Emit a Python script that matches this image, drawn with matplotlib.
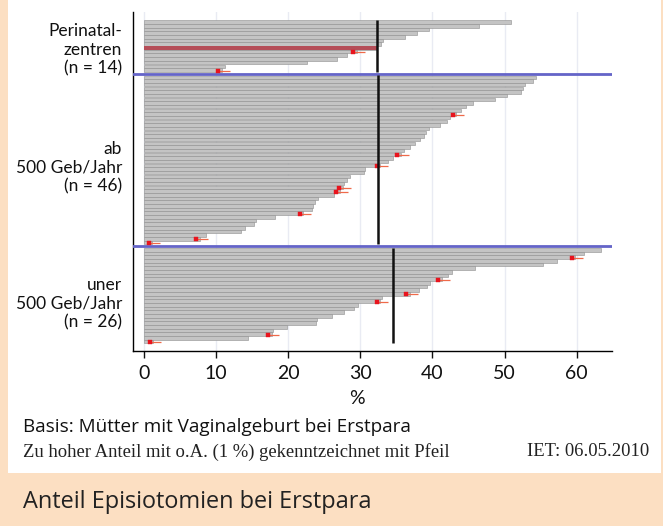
import matplotlib
matplotlib.use("Agg")
import matplotlib.pyplot as plt
from matplotlib.patches import Rectangle

# ---------------- data ----------------
group_labels = ["Perinatal-\nzentren\n(n = 14)", "ab\n500 Geb/Jahr\n(n = 46)", "uner\n500 Geb/Jahr\n(n = 26)"]

top_vals = [50.9, 46.5, 39.5, 37.8, 36.2, 33.1, 32.9, 32.3, 29.5, 28.1, 26.8, 22.6, 11.3, 10.8]
top_flags = [8, 13]
top_highlight = 7
top_mean = 32.3

mid_vals = [54.4, 54.0, 52.9, 52.5, 52.3, 50.3, 48.7, 45.7, 44.7, 43.9,
            43.3, 42.5, 42.0, 41.1, 39.5, 39.1, 38.8, 38.3, 37.6, 36.9,
            36.1, 35.6, 34.6, 33.8, 32.8, 30.7, 30.5, 28.6, 28.1, 27.8,
            27.6, 27.2, 26.3, 24.1, 23.7, 23.5, 23.3, 22.1, 18.2, 15.5,
            15.3, 14.0, 13.5, 8.6, 7.8, 1.2]
mid_flags = [10, 21, 24, 30, 31, 37, 44, 45]
mid_mean = 32.5

bot_vals = [63.4, 61.0, 59.8, 57.3, 55.4, 45.9, 42.7, 42.2, 41.3, 39.7,
            39.2, 38.1, 36.9, 33.0, 32.8, 29.7, 29.1, 27.7, 26.1, 24.0,
            23.8, 19.8, 17.9, 17.7, 14.4, 1.3]
bot_flags = [2, 8, 12, 14, 23, 25]
bot_mean = 34.6

x_ticks = [0, 10, 20, 30, 40, 50, 60]
x_label = "%"
note_basis = "Basis: Mütter mit Vaginalgeburt bei Erstpara"
note_arrow = "Zu hoher Anteil mit o.A. (1 %) gekenntzeichnet mit Pfeil"
note_date = "IET: 06.05.2010"
title = "Anteil Episiotomien bei Erstpara"

# ---------------- style ----------------
SANS = ["Lato", "DejaVu Sans"]
SANS2 = ["Open Sans", "DejaVu Sans"]
SERIF = ["Liberation Serif", "DejaVu Serif"]
PEACH = "#fcdfc2"
BAR_FACE = "#c4c4c4"
BAR_EDGE = "#8e8e8e"
HIGHLIGHT = "#b54e58"
SEP_BLUE = "#6464c8"
GRID = "#e9ebf3"

W, H = 663, 526
fig = plt.figure(figsize=(W / 100, H / 100), dpi=100)
fig.patch.set_facecolor("white")

# background frame
fig.add_artist(Rectangle((0, 0), 1, 53 / H, transform=fig.transFigure,
                         facecolor=PEACH, edgecolor="none", zorder=0))
fig.add_artist(Rectangle((0, 0), 8 / W, 1, transform=fig.transFigure,
                         facecolor=PEACH, edgecolor="none", zorder=0))
fig.add_artist(Rectangle((661 / W, 0), 2 / W, 1, transform=fig.transFigure,
                         facecolor=PEACH, edgecolor="none", zorder=0))

ax_l, ax_r, ax_t, ax_b = 133, 612, 12, 351
ax = fig.add_axes([ax_l / W, 1 - ax_b / H, (ax_r - ax_l) / W, (ax_b - ax_t) / H])
ax.set_facecolor("none")

groups = [(top_vals, top_flags, top_mean), (mid_vals, mid_flags, mid_mean), (bot_vals, bot_flags, bot_mean)]
row = 0
sep_rows = []
for gi, (vals, flags, mean) in enumerate(groups):
    rows = list(range(row, row + len(vals)))
    ax.barh(rows, vals, height=0.98, color=BAR_FACE, edgecolor=BAR_EDGE, linewidth=0.4, zorder=2)
    if gi == 0:
        ax.barh([rows[top_highlight]], [vals[top_highlight]], height=1.05, color=HIGHLIGHT,
                edgecolor="none", zorder=2.5)
    for fi in flags:
        v = vals[fi]
        ax.plot([v - 0.5, v + 1.1], [rows[fi] + 0.15, rows[fi] + 0.15], color="#ef6a4a", lw=0.9,
                zorder=4, solid_capstyle="butt")
        ax.plot([v - 0.5], [rows[fi] + 0.15], marker="s", ms=2.8, color="#e8141e", mec="#e8141e",
                mew=0.3, zorder=5)
    ax.vlines(mean, rows[0] - 0.5, rows[-1] + 0.5, color="#111111", lw=1.8, zorder=6)
    row += len(vals)
    if gi < 2:
        sep_rows.append(row)
        row += 1

for sr in sep_rows:
    ax.axhline(sr, color=SEP_BLUE, lw=2.0, zorder=3)

for t in x_ticks:
    ax.axvline(t, color=GRID, lw=1.0, zorder=1)

ax.set_xlim(-1.5, 64.9)
ax.set_ylim(89.6, -2.8)
ax.set_xticks(x_ticks)
ax.set_xticklabels([str(t) for t in x_ticks], fontfamily=SANS, fontsize=14)
ax.set_yticks([])
ax.tick_params(axis="x", direction="out", length=5, width=1, pad=5, colors="#111111")
for s in ["top", "right"]:
    ax.spines[s].set_visible(False)
ax.spines["left"].set_linewidth(1.0)
ax.spines["bottom"].set_linewidth(1.0)

# group labels
label_centers = [50, 168, 304]
for lab, yc in zip(group_labels, label_centers):
    fig.text(122 / W, 1 - yc / H, lab, ha="right", va="center", fontfamily=SANS,
             fontsize=12.5, linespacing=1.22, color="#111111")

fig.text(357 / W, 1 - 398 / H, x_label, ha="center", va="center", fontfamily=SANS, fontsize=14, color="#111111")
fig.text(23 / W, 1 - 427 / H, note_basis, ha="left", va="center", fontfamily=SANS2, fontsize=13.6, color="#111111")
fig.text(23 / W, 1 - 452 / H, note_arrow, ha="left", va="center", fontfamily=SERIF, fontsize=13.4, color="#222222")
fig.text(649 / W, 1 - 452 / H, note_date, ha="right", va="center", fontfamily=SERIF, fontsize=13.4, color="#222222")
fig.text(23 / W, 1 - 502 / H, title, ha="left", va="center", fontfamily=SANS2, fontsize=16.9, color="#222222")

fig.savefig("out.png", dpi=100)
